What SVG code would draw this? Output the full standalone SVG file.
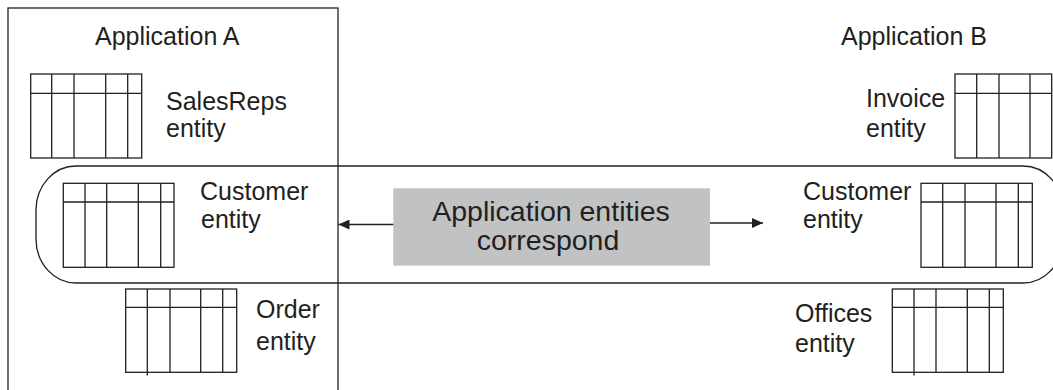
<svg xmlns="http://www.w3.org/2000/svg" width="1053" height="390" viewBox="0 0 1053 390">
<style>
.ln{fill:none;stroke:#231f20;stroke-width:1.3}
.t{font-family:"Liberation Sans",Arial,sans-serif;font-size:25px;fill:#231f20}
.c{font-family:"Liberation Sans",Arial,sans-serif;font-size:28.5px;fill:#231f20;text-anchor:middle}
</style>
<defs>
<marker id="ah" markerWidth="12" markerHeight="10" refX="11" refY="5" orient="auto" markerUnits="userSpaceOnUse">
<path d="M0,0 L11,5 L0,10 Z" fill="#231f20"/>
</marker>
</defs>
<rect width="1053" height="390" fill="#fff"/>
<g id="appA">
<rect class="ln" x="8" y="8" width="330" height="420"/>
<text class="t" x="95" y="45">Application A</text>
</g>
<g id="appB">
<text class="t" x="841" y="45">Application B</text>
</g>
<g id="band">
<rect class="ln" x="36" y="166" width="1027" height="117" rx="40" ry="44"/>
</g>
<g id="salesreps">
<rect class="ln" x="30.7" y="74" width="111" height="84"/>
<path class="ln" d="M30.7,93.3H141.7M51.7,74V158M74,74V158M105.7,74V158M127.7,74V158"/>
<text class="t" x="166" y="110">SalesReps</text>
<text class="t" x="166" y="137">entity</text>
</g>
<g id="customerA">
<rect class="ln" x="63.3" y="183.3" width="110.7" height="84"/>
<path class="ln" d="M63.3,202H174M85,183.3V267.3M106.7,183.3V267.3M138.3,183.3V267.3M160.7,183.3V267.3"/>
<text class="t" x="200" y="200">Customer</text>
<text class="t" x="201" y="228">entity</text>
</g>
<g id="order">
<rect class="ln" x="125.7" y="289" width="111" height="83.3"/>
<path class="ln" d="M125.7,307.3H236.7M147.3,289V375.5M170,289V372.3M200.7,289V372.3M222.7,289V372.3"/>
<text class="t" x="256" y="318">Order</text>
<text class="t" x="256" y="350">entity</text>
</g>
<g id="invoice">
<rect class="ln" x="955" y="74" width="96.7" height="84"/>
<path class="ln" d="M955,93.3H1051.7M976.7,74V158M999,74V158M1030,74V158"/>
<text class="t" x="866" y="107">Invoice</text>
<text class="t" x="866" y="137">entity</text>
</g>
<g id="customerB">
<rect class="ln" x="921" y="183.3" width="111.3" height="84"/>
<path class="ln" d="M921,202H1032.3M942.7,183.3V267.3M965,183.3V267.3M996,183.3V267.3M1018.3,183.3V267.3"/>
<text class="t" x="803" y="200">Customer</text>
<text class="t" x="803" y="228">entity</text>
</g>
<g id="offices">
<rect class="ln" x="892.3" y="289" width="111" height="83.3"/>
<path class="ln" d="M892.3,307.3H1003.3M914,289V375.5M936,289V372.3M967.3,289V372.3M989.3,289V372.3"/>
<text class="t" x="795" y="322">Offices</text>
<text class="t" x="795" y="352">entity</text>
</g>
<g id="correspond">
<rect x="393.3" y="188.3" width="316.7" height="77.4" fill="#c1c2c4"/>
<text class="c" x="551" y="221">Application entities</text>
<text class="c" x="548" y="250">correspond</text>
</g>
<g id="connectors">
<line class="ln" x1="393.3" y1="224.5" x2="338.5" y2="224.5" marker-end="url(#ah)"/>
<line class="ln" x1="710" y1="223" x2="763" y2="223" marker-end="url(#ah)"/>
</g>
</svg>
